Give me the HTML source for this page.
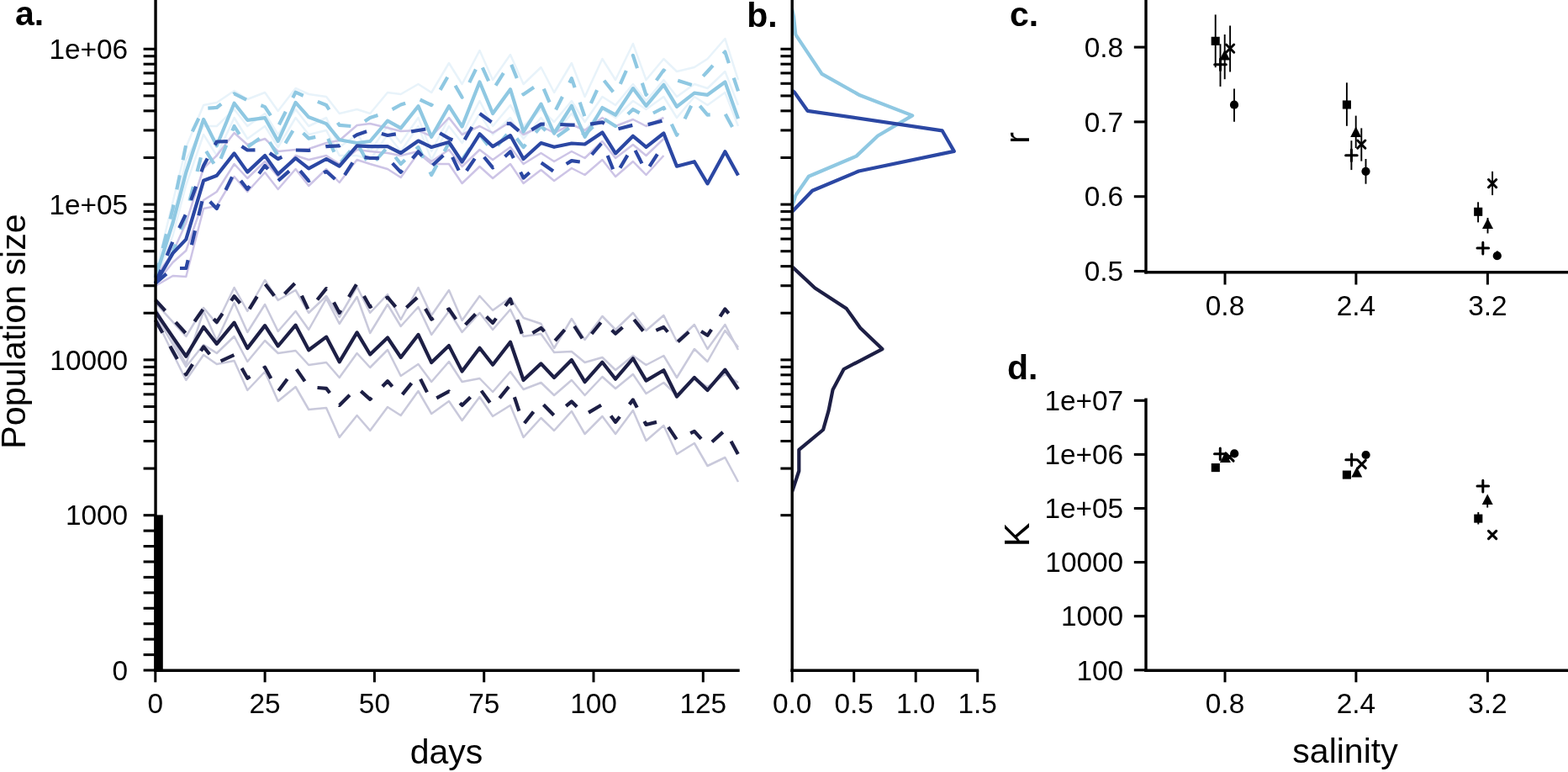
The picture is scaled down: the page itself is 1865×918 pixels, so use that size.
<!DOCTYPE html>
<html><head><meta charset="utf-8"><title>Population dynamics figure</title>
<style>html,body{margin:0;padding:0;background:#fff;}body{width:1865px;height:918px;overflow:hidden;}svg{display:block;}</style>
</head><body>
<svg width="1865" height="918" viewBox="0 0 1865 918" font-family="'Liberation Sans', Arial, Helvetica, sans-serif" fill="#000">
<polyline points="184.8,360.0 205.6,382.9 221.3,400.0 242.1,366.0 257.8,385.0 278.6,342.0 294.3,370.0 315.1,333.0 330.7,357.0 351.6,345.0 367.2,372.0 388.1,352.0 403.7,377.0 424.6,341.0 440.2,372.0 461.0,350.0 476.7,380.0 497.5,342.0 513.2,375.0 534.0,345.0 549.6,381.0 570.5,352.0 586.1,369.0 607.0,354.0 622.6,378.0 643.5,385.0 659.1,414.0 679.9,379.0 695.6,404.0 716.4,376.0 732.1,392.0 752.9,372.0 768.5,393.0 789.4,375.0 805.0,406.0 825.9,386.0 841.5,415.0 862.4,386.0 878.0,416.0" fill="none" stroke="#c9c9db" stroke-width="2.5" stroke-linejoin="round" stroke-linecap="butt"/>
<polyline points="184.8,366.0 205.6,404.3 221.3,433.0 242.1,370.0 257.8,405.0 278.6,360.0 294.3,395.0 315.1,362.0 330.7,394.0 351.6,370.0 367.2,392.0 388.1,355.0 403.7,385.0 424.6,353.0 440.2,396.0 461.0,362.0 476.7,388.0 497.5,365.0 513.2,398.0 534.0,370.0 549.6,395.0 570.5,372.0 586.1,392.0 607.0,368.0 622.6,400.0 643.5,397.0 659.1,419.0 679.9,418.0 695.6,431.0 716.4,425.0 732.1,440.0 752.9,423.0 768.5,434.0 789.4,423.0 805.0,449.0 825.9,415.0 841.5,430.0 862.4,393.0 878.0,413.0" fill="none" stroke="#c9c9db" stroke-width="2.5" stroke-linejoin="round" stroke-linecap="butt"/>
<polyline points="184.8,374.0 205.6,409.4 221.3,436.0 242.1,410.0 257.8,420.0 278.6,400.0 294.3,430.0 315.1,405.0 330.7,420.0 351.6,417.0 367.2,434.0 388.1,431.0 403.7,449.0 424.6,420.0 440.2,437.0 461.0,416.0 476.7,447.0 497.5,433.0 513.2,454.0 534.0,430.0 549.6,454.0 570.5,450.0 586.1,466.0 607.0,442.0 622.6,463.0 643.5,455.0 659.1,470.0 679.9,452.0 695.6,470.0 716.4,448.0 732.1,462.0 752.9,445.0 768.5,468.0 789.4,455.0 805.0,470.0 825.9,450.0 841.5,460.0 862.4,445.0 878.0,455.0" fill="none" stroke="#c9c9db" stroke-width="2.5" stroke-linejoin="round" stroke-linecap="butt"/>
<polyline points="184.8,378.0 205.6,420.3 221.3,452.0 242.1,422.0 257.8,433.0 278.6,429.0 294.3,464.0 315.1,442.0 330.7,477.0 351.6,460.0 367.2,487.0 388.1,485.0 403.7,520.0 424.6,494.0 440.2,512.0 461.0,484.0 476.7,494.0 497.5,465.0 513.2,492.0 534.0,477.0 549.6,500.0 570.5,472.0 586.1,495.0 607.0,482.0 622.6,520.0 643.5,497.0 659.1,512.0 679.9,489.0 695.6,516.0 716.4,495.0 732.1,516.0 752.9,488.0 768.5,524.0 789.4,506.0 805.0,540.0 825.9,527.0 841.5,554.0 862.4,544.0 878.0,573.0" fill="none" stroke="#c9c9db" stroke-width="2.5" stroke-linejoin="round" stroke-linecap="butt"/>
<polyline points="184.8,325.0 205.6,240.0 221.3,175.0 242.1,125.0 257.8,122.0 278.6,108.0 294.3,118.0 315.1,110.0 330.7,132.0 351.6,105.0 367.2,112.0 388.1,115.0 403.7,135.0 424.6,130.0 440.2,135.0 461.0,110.0 476.7,112.0 497.5,100.0 513.2,110.0 534.0,75.0 549.6,100.0 570.5,60.0 586.1,95.0 607.0,65.0 622.6,100.0 643.5,80.0 659.1,110.0 679.9,75.0 695.6,115.0 716.4,70.0 732.1,95.0 752.9,52.0 768.5,95.0 789.4,70.0 805.0,85.0 825.9,80.0 841.5,70.0 862.4,46.0 878.0,95.0" fill="none" stroke="#e8f3fa" stroke-width="2.5" stroke-linejoin="round" stroke-linecap="butt"/>
<polyline points="184.8,332.0 205.6,260.0 221.3,190.0 242.1,150.0 257.8,150.0 278.6,130.0 294.3,150.0 315.1,135.0 330.7,160.0 351.6,130.0 367.2,150.0 388.1,140.0 403.7,175.0 424.6,160.0 440.2,180.0 461.0,150.0 476.7,170.0 497.5,140.0 513.2,180.0 534.0,140.0 549.6,160.0 570.5,120.0 586.1,150.0 607.0,125.0 622.6,150.0 643.5,130.0 659.1,145.0 679.9,120.0 695.6,145.0 716.4,115.0 732.1,125.0 752.9,100.0 768.5,120.0 789.4,95.0 805.0,115.0 825.9,100.0 841.5,105.0 862.4,85.0 878.0,125.0" fill="none" stroke="#e8f3fa" stroke-width="2.5" stroke-linejoin="round" stroke-linecap="butt"/>
<polyline points="184.8,335.0 205.6,280.0 221.3,220.0 242.1,160.0 257.8,185.0 278.6,140.0 294.3,165.0 315.1,150.0 330.7,175.0 351.6,140.0 367.2,160.0 388.1,155.0 403.7,185.0 424.6,185.0 440.2,190.0 461.0,160.0 476.7,180.0 497.5,150.0 513.2,190.0 534.0,150.0 549.6,170.0 570.5,135.0 586.1,160.0 607.0,140.0 622.6,165.0 643.5,140.0 659.1,160.0 679.9,135.0 695.6,155.0 716.4,130.0 732.1,140.0 752.9,120.0 768.5,130.0 789.4,115.0 805.0,140.0 825.9,115.0 841.5,125.0 862.4,110.0 878.0,150.0" fill="none" stroke="#e8f3fa" stroke-width="2.5" stroke-linejoin="round" stroke-linecap="butt"/>
<polyline points="184.8,330.0 205.6,300.0 221.3,265.0 242.1,200.0 257.8,185.0 278.6,158.0 294.3,172.0 315.1,165.0 330.7,180.0 351.6,178.0 367.2,177.0 388.1,170.0 403.7,167.0 424.6,149.0 440.2,147.0 461.0,152.0 476.7,156.0 497.5,155.0 513.2,162.0 534.0,140.0 549.6,160.0 570.5,150.0 586.1,158.0 607.0,145.0 622.6,160.0 643.5,150.0 659.1,158.0 679.9,148.0 695.6,155.0 716.4,140.0 732.1,150.0 752.9,142.0 768.5,150.0 789.4,140.0" fill="none" stroke="#cdc4e6" stroke-width="2.5" stroke-linejoin="round" stroke-linecap="butt"/>
<polyline points="184.8,338.0 205.6,312.0 221.3,298.0 242.1,238.0 257.8,228.0 278.6,195.0 294.3,212.0 315.1,192.0 330.7,210.0 351.6,185.0 367.2,190.0 388.1,185.0 403.7,195.0 424.6,178.0 440.2,180.0 461.0,182.0 476.7,185.0 497.5,180.0 513.2,192.0 534.0,178.0 549.6,198.0 570.5,178.0 586.1,190.0 607.0,175.0 622.6,195.0 643.5,182.0 659.1,192.0 679.9,180.0 695.6,188.0 716.4,168.0 732.1,188.0 752.9,172.0 768.5,185.0 789.4,165.0" fill="none" stroke="#cdc4e6" stroke-width="2.5" stroke-linejoin="round" stroke-linecap="butt"/>
<polyline points="184.8,340.0 205.6,328.0 221.3,329.0 242.1,248.0 257.8,245.0 278.6,210.0 294.3,228.0 315.1,205.0 330.7,225.0 351.6,201.0 367.2,221.0 388.1,201.0 403.7,217.0 424.6,190.0 440.2,195.0 461.0,201.0 476.7,211.0 497.5,182.0 513.2,195.0 534.0,195.0 549.6,218.0 570.5,198.0 586.1,212.0 607.0,195.0 622.6,218.0 643.5,202.0 659.1,215.0 679.9,200.0 695.6,208.0 716.4,190.0 732.1,210.0 752.9,192.0 768.5,208.0 789.4,185.0" fill="none" stroke="#cdc4e6" stroke-width="2.5" stroke-linejoin="round" stroke-linecap="butt"/>
<polyline points="184.8,330.0 205.6,248.0 221.3,172.0 242.1,128.8 257.8,128.0 278.6,111.4 294.3,119.3 315.1,127.1 330.7,150.6 351.6,109.7 367.2,116.6 388.1,125.0 403.7,148.9 424.6,150.6 440.2,140.0 461.0,133.2 476.7,124.5 497.5,117.5 513.2,125.0 534.0,88.8 549.6,115.8 570.5,73.1 586.1,107.1 607.0,73.9 622.6,112.3 643.5,98.0 659.1,134.5 679.9,93.2 695.6,138.9 716.4,93.2 732.1,112.8 752.9,65.9 768.5,112.8 789.4,83.4 805.0,95.3 825.9,101.9 841.5,85.0 862.4,61.6 878.0,108.4" fill="none" stroke="#8fc8e2" stroke-width="4.2" stroke-linejoin="round" stroke-linecap="butt" stroke-dasharray="17.4 18.5"/>
<polyline points="184.8,338.0 205.6,300.0 221.3,255.0 242.1,175.0 257.8,200.0 278.6,150.0 294.3,175.0 315.1,160.0 330.7,185.0 351.6,150.0 367.2,164.6 388.1,160.0 403.7,195.0 424.6,170.0 440.2,198.0 461.0,175.0 476.7,195.0 497.5,175.0 513.2,208.0 534.0,170.0 549.6,190.0 570.5,160.0 586.1,180.0 607.0,155.0 622.6,175.0 643.5,150.0 659.1,165.0 679.9,150.0 695.6,160.0 716.4,140.0 732.1,150.0 752.9,130.0 768.5,138.9 789.4,128.0 805.0,160.7 825.9,118.2 841.5,136.7 862.4,135.0 878.0,163.9" fill="none" stroke="#8fc8e2" stroke-width="4.2" stroke-linejoin="round" stroke-linecap="butt" stroke-dasharray="17.4 18.5"/>
<polyline points="184.8,330.0 205.6,265.0 221.3,205.0 242.1,141.9 257.8,173.3 278.6,122.7 294.3,142.8 315.1,140.2 330.7,168.0 351.6,121.9 367.2,139.3 388.1,147.1 403.7,166.3 424.6,170.0 440.2,168.0 461.0,143.7 476.7,152.4 497.5,126.2 513.2,162.8 534.0,126.2 549.6,150.6 570.5,97.5 586.1,135.0 607.0,106.2 622.6,156.7 643.5,123.6 659.1,158.5 679.9,125.8 695.6,162.8 716.4,128.0 732.1,136.7 752.9,105.1 768.5,125.8 789.4,100.8 805.0,126.9 825.9,110.6 841.5,112.8 862.4,97.5 878.0,141.1" fill="none" stroke="#8fc8e2" stroke-width="4.2" stroke-linejoin="round" stroke-linecap="butt"/>
<polyline points="184.8,337.0 205.6,287.0 221.3,254.0 242.1,197.0 257.8,168.5 278.6,168.0 294.3,178.5 315.1,178.0 330.7,189.0 351.6,178.5 367.2,179.0 388.1,174.2 403.7,173.3 424.6,160.2 440.2,155.0 461.0,161.0 476.7,158.5 497.5,155.0 513.2,152.4 534.0,164.6 549.6,171.5 570.5,135.0 586.1,146.3 607.0,147.1 622.6,160.2 643.5,147.6 659.1,147.6 679.9,148.7 695.6,148.7 716.4,145.4 732.1,154.1 752.9,148.7 768.5,148.7 789.4,143.2" fill="none" stroke="#2b47a3" stroke-width="4.2" stroke-linejoin="round" stroke-linecap="butt" stroke-dasharray="17.4 18.5"/>
<polyline points="184.8,337.0 205.6,319.0 221.3,319.0 242.1,232.0 257.8,248.0 278.6,205.0 294.3,225.0 315.1,197.0 330.7,215.0 351.6,196.8 367.2,215.1 388.1,203.8 403.7,217.7 424.6,185.5 440.2,188.0 461.0,188.1 476.7,204.7 497.5,180.3 513.2,197.7 534.0,178.5 549.6,210.8 570.5,180.3 586.1,199.4 607.0,180.3 622.6,211.6 643.5,193.3 659.1,204.2 679.9,191.1 695.6,193.3 716.4,169.4 732.1,208.6 752.9,173.7 768.5,204.2 789.4,171.5" fill="none" stroke="#2b47a3" stroke-width="4.2" stroke-linejoin="round" stroke-linecap="butt" stroke-dasharray="17.4 18.5"/>
<polyline points="184.8,337.0 205.6,301.1 221.3,284.6 242.1,214.8 257.8,208.7 278.6,182.4 294.3,204.6 315.1,185.0 330.7,207.0 351.6,188.1 367.2,200.3 388.1,189.0 403.7,197.7 424.6,173.3 440.2,174.2 461.0,174.2 476.7,182.0 497.5,167.5 513.2,175.0 534.0,169.0 549.6,192.5 570.5,159.3 586.1,174.2 607.0,161.1 622.6,189.0 643.5,170.0 659.1,174.8 679.9,170.5 695.6,171.5 716.4,157.4 732.1,182.4 752.9,161.8 768.5,174.8 789.4,158.5 805.0,197.7 825.9,192.2 841.5,218.4 862.4,180.3 878.0,208.6" fill="none" stroke="#2b47a3" stroke-width="4.2" stroke-linejoin="round" stroke-linecap="butt"/>
<polyline points="184.8,356.6 205.6,379.5 221.3,396.7 242.1,367.0 257.8,383.0 278.6,352.2 294.3,371.4 315.1,337.4 330.7,357.5 351.6,336.1 367.2,369.3 388.1,343.1 403.7,371.9 424.6,337.0 440.2,364.9 461.0,353.6 476.7,371.9 497.5,352.7 513.2,379.7 534.0,367.5 549.6,390.2 570.5,368.4 586.1,384.0 607.0,355.7 622.6,402.4 643.5,390.0 659.1,406.3 679.9,382.7 695.6,407.1 716.4,381.4 732.1,396.7 752.9,378.4 768.5,398.0 789.4,389.0 805.0,407.6 825.9,388.8 841.5,398.8 862.4,367.5 878.0,386.3" fill="none" stroke="#1d1f45" stroke-width="4.2" stroke-linejoin="round" stroke-linecap="butt" stroke-dasharray="17.4 18.5"/>
<polyline points="184.8,380.5 205.6,417.6 221.3,445.5 242.1,412.4 257.8,431.5 278.6,422.0 294.3,449.8 315.1,436.8 330.7,465.5 351.6,437.5 367.2,460.1 388.1,461.9 403.7,481.9 424.6,461.0 440.2,474.9 461.0,453.2 476.7,471.5 497.5,445.7 513.2,476.7 534.0,465.4 549.6,481.9 570.5,461.9 586.1,483.3 607.0,457.5 622.6,504.6 643.5,478.4 659.1,494.0 679.9,477.5 695.6,493.2 716.4,481.0 732.1,501.9 752.9,475.4 768.5,505.0 789.4,499.8 805.0,522.8 825.9,512.8 841.5,530.3 862.4,511.5 878.0,540.4" fill="none" stroke="#1d1f45" stroke-width="4.2" stroke-linejoin="round" stroke-linecap="butt" stroke-dasharray="17.4 18.5"/>
<polyline points="184.8,370.5 205.6,400.9 221.3,423.7 242.1,388.8 257.8,408.9 278.6,383.6 294.3,414.1 315.1,387.1 330.7,411.5 351.6,386.7 367.2,416.3 388.1,400.6 403.7,430.3 424.6,395.4 440.2,421.5 461.0,401.5 476.7,425.0 497.5,398.0 513.2,431.1 534.0,411.1 549.6,441.6 570.5,413.7 586.1,433.7 607.0,406.7 622.6,452.0 643.5,432.4 659.1,449.0 679.9,428.0 695.6,454.2 716.4,430.7 732.1,450.7 752.9,426.3 768.5,452.6 789.4,440.3 805.0,471.5 825.9,448.9 841.5,464.0 862.4,439.7 878.0,462.7" fill="none" stroke="#1d1f45" stroke-width="4.2" stroke-linejoin="round" stroke-linecap="butt"/>
<rect x="183.3" y="612.4" width="10.5" height="184.8" fill="#000"/>
<line x1="170.60" y1="612.70" x2="185.05" y2="612.70" stroke="#000" stroke-width="3.1" stroke-linecap="butt"/>
<line x1="170.60" y1="557.07" x2="185.05" y2="557.07" stroke="#000" stroke-width="3.1" stroke-linecap="butt"/>
<line x1="170.60" y1="524.53" x2="185.05" y2="524.53" stroke="#000" stroke-width="3.1" stroke-linecap="butt"/>
<line x1="170.60" y1="501.44" x2="185.05" y2="501.44" stroke="#000" stroke-width="3.1" stroke-linecap="butt"/>
<line x1="170.60" y1="483.53" x2="185.05" y2="483.53" stroke="#000" stroke-width="3.1" stroke-linecap="butt"/>
<line x1="170.60" y1="468.90" x2="185.05" y2="468.90" stroke="#000" stroke-width="3.1" stroke-linecap="butt"/>
<line x1="170.60" y1="456.53" x2="185.05" y2="456.53" stroke="#000" stroke-width="3.1" stroke-linecap="butt"/>
<line x1="170.60" y1="445.81" x2="185.05" y2="445.81" stroke="#000" stroke-width="3.1" stroke-linecap="butt"/>
<line x1="170.60" y1="436.36" x2="185.05" y2="436.36" stroke="#000" stroke-width="3.1" stroke-linecap="butt"/>
<line x1="170.60" y1="427.90" x2="185.05" y2="427.90" stroke="#000" stroke-width="3.1" stroke-linecap="butt"/>
<line x1="170.60" y1="372.27" x2="185.05" y2="372.27" stroke="#000" stroke-width="3.1" stroke-linecap="butt"/>
<line x1="170.60" y1="339.73" x2="185.05" y2="339.73" stroke="#000" stroke-width="3.1" stroke-linecap="butt"/>
<line x1="170.60" y1="316.64" x2="185.05" y2="316.64" stroke="#000" stroke-width="3.1" stroke-linecap="butt"/>
<line x1="170.60" y1="298.73" x2="185.05" y2="298.73" stroke="#000" stroke-width="3.1" stroke-linecap="butt"/>
<line x1="170.60" y1="284.10" x2="185.05" y2="284.10" stroke="#000" stroke-width="3.1" stroke-linecap="butt"/>
<line x1="170.60" y1="271.73" x2="185.05" y2="271.73" stroke="#000" stroke-width="3.1" stroke-linecap="butt"/>
<line x1="170.60" y1="261.01" x2="185.05" y2="261.01" stroke="#000" stroke-width="3.1" stroke-linecap="butt"/>
<line x1="170.60" y1="251.56" x2="185.05" y2="251.56" stroke="#000" stroke-width="3.1" stroke-linecap="butt"/>
<line x1="170.60" y1="243.10" x2="185.05" y2="243.10" stroke="#000" stroke-width="3.1" stroke-linecap="butt"/>
<line x1="170.60" y1="187.47" x2="185.05" y2="187.47" stroke="#000" stroke-width="3.1" stroke-linecap="butt"/>
<line x1="170.60" y1="154.93" x2="185.05" y2="154.93" stroke="#000" stroke-width="3.1" stroke-linecap="butt"/>
<line x1="170.60" y1="131.84" x2="185.05" y2="131.84" stroke="#000" stroke-width="3.1" stroke-linecap="butt"/>
<line x1="170.60" y1="113.93" x2="185.05" y2="113.93" stroke="#000" stroke-width="3.1" stroke-linecap="butt"/>
<line x1="170.60" y1="99.30" x2="185.05" y2="99.30" stroke="#000" stroke-width="3.1" stroke-linecap="butt"/>
<line x1="170.60" y1="86.93" x2="185.05" y2="86.93" stroke="#000" stroke-width="3.1" stroke-linecap="butt"/>
<line x1="170.60" y1="76.21" x2="185.05" y2="76.21" stroke="#000" stroke-width="3.1" stroke-linecap="butt"/>
<line x1="170.60" y1="66.76" x2="185.05" y2="66.76" stroke="#000" stroke-width="3.1" stroke-linecap="butt"/>
<line x1="170.60" y1="58.30" x2="185.05" y2="58.30" stroke="#000" stroke-width="3.1" stroke-linecap="butt"/>
<line x1="170.60" y1="797.00" x2="185.05" y2="797.00" stroke="#000" stroke-width="3.1" stroke-linecap="butt"/>
<line x1="170.60" y1="778.57" x2="185.05" y2="778.57" stroke="#000" stroke-width="3.1" stroke-linecap="butt"/>
<line x1="170.60" y1="760.14" x2="185.05" y2="760.14" stroke="#000" stroke-width="3.1" stroke-linecap="butt"/>
<line x1="170.60" y1="741.71" x2="185.05" y2="741.71" stroke="#000" stroke-width="3.1" stroke-linecap="butt"/>
<line x1="170.60" y1="723.28" x2="185.05" y2="723.28" stroke="#000" stroke-width="3.1" stroke-linecap="butt"/>
<line x1="170.60" y1="704.85" x2="185.05" y2="704.85" stroke="#000" stroke-width="3.1" stroke-linecap="butt"/>
<line x1="170.60" y1="686.42" x2="185.05" y2="686.42" stroke="#000" stroke-width="3.1" stroke-linecap="butt"/>
<line x1="170.60" y1="667.99" x2="185.05" y2="667.99" stroke="#000" stroke-width="3.1" stroke-linecap="butt"/>
<line x1="170.60" y1="649.56" x2="185.05" y2="649.56" stroke="#000" stroke-width="3.1" stroke-linecap="butt"/>
<line x1="170.60" y1="631.13" x2="185.05" y2="631.13" stroke="#000" stroke-width="3.1" stroke-linecap="butt"/>
<text x="152.20" y="70.00" font-size="33.4" text-anchor="end" font-weight="normal">1e+06</text>
<text x="152.20" y="254.80" font-size="33.4" text-anchor="end" font-weight="normal">1e+05</text>
<text x="152.20" y="439.60" font-size="33.4" text-anchor="end" font-weight="normal">10000</text>
<text x="152.20" y="624.40" font-size="33.4" text-anchor="end" font-weight="normal">1000</text>
<text x="152.20" y="808.70" font-size="33.4" text-anchor="end" font-weight="normal">0</text>
<line x1="184.80" y1="797.20" x2="184.80" y2="811.30" stroke="#000" stroke-width="3" stroke-linecap="butt"/>
<text x="184.80" y="848.20" font-size="33.4" text-anchor="middle" font-weight="normal">0</text>
<line x1="315.10" y1="797.20" x2="315.10" y2="811.30" stroke="#000" stroke-width="3" stroke-linecap="butt"/>
<text x="315.10" y="848.20" font-size="33.4" text-anchor="middle" font-weight="normal">25</text>
<line x1="445.40" y1="797.20" x2="445.40" y2="811.30" stroke="#000" stroke-width="3" stroke-linecap="butt"/>
<text x="445.40" y="848.20" font-size="33.4" text-anchor="middle" font-weight="normal">50</text>
<line x1="575.70" y1="797.20" x2="575.70" y2="811.30" stroke="#000" stroke-width="3" stroke-linecap="butt"/>
<text x="575.70" y="848.20" font-size="33.4" text-anchor="middle" font-weight="normal">75</text>
<line x1="706.00" y1="797.20" x2="706.00" y2="811.30" stroke="#000" stroke-width="3" stroke-linecap="butt"/>
<text x="706.00" y="848.20" font-size="33.4" text-anchor="middle" font-weight="normal">100</text>
<line x1="836.30" y1="797.20" x2="836.30" y2="811.30" stroke="#000" stroke-width="3" stroke-linecap="butt"/>
<text x="836.30" y="848.20" font-size="33.4" text-anchor="middle" font-weight="normal">125</text>
<line x1="185.05" y1="0.00" x2="185.05" y2="798.90" stroke="#000" stroke-width="3.4" stroke-linecap="butt"/>
<line x1="183.35" y1="797.20" x2="879.70" y2="797.20" stroke="#000" stroke-width="3.4" stroke-linecap="butt"/>
<text x="30.00" y="394.00" font-size="41.2" text-anchor="middle" font-weight="normal" transform="rotate(-90 30.00 394.00)">Population size</text>
<text x="531.00" y="908.00" font-size="41" text-anchor="middle" font-weight="normal">days</text>
<text x="18.00" y="30.00" font-size="41" text-anchor="start" font-weight="bold">a.</text>
<line x1="928.40" y1="612.70" x2="942.20" y2="612.70" stroke="#000" stroke-width="3.1" stroke-linecap="butt"/>
<line x1="928.40" y1="557.07" x2="942.20" y2="557.07" stroke="#000" stroke-width="3.1" stroke-linecap="butt"/>
<line x1="928.40" y1="524.53" x2="942.20" y2="524.53" stroke="#000" stroke-width="3.1" stroke-linecap="butt"/>
<line x1="928.40" y1="501.44" x2="942.20" y2="501.44" stroke="#000" stroke-width="3.1" stroke-linecap="butt"/>
<line x1="928.40" y1="483.53" x2="942.20" y2="483.53" stroke="#000" stroke-width="3.1" stroke-linecap="butt"/>
<line x1="928.40" y1="468.90" x2="942.20" y2="468.90" stroke="#000" stroke-width="3.1" stroke-linecap="butt"/>
<line x1="928.40" y1="456.53" x2="942.20" y2="456.53" stroke="#000" stroke-width="3.1" stroke-linecap="butt"/>
<line x1="928.40" y1="445.81" x2="942.20" y2="445.81" stroke="#000" stroke-width="3.1" stroke-linecap="butt"/>
<line x1="928.40" y1="436.36" x2="942.20" y2="436.36" stroke="#000" stroke-width="3.1" stroke-linecap="butt"/>
<line x1="928.40" y1="427.90" x2="942.20" y2="427.90" stroke="#000" stroke-width="3.1" stroke-linecap="butt"/>
<line x1="928.40" y1="372.27" x2="942.20" y2="372.27" stroke="#000" stroke-width="3.1" stroke-linecap="butt"/>
<line x1="928.40" y1="339.73" x2="942.20" y2="339.73" stroke="#000" stroke-width="3.1" stroke-linecap="butt"/>
<line x1="928.40" y1="316.64" x2="942.20" y2="316.64" stroke="#000" stroke-width="3.1" stroke-linecap="butt"/>
<line x1="928.40" y1="298.73" x2="942.20" y2="298.73" stroke="#000" stroke-width="3.1" stroke-linecap="butt"/>
<line x1="928.40" y1="284.10" x2="942.20" y2="284.10" stroke="#000" stroke-width="3.1" stroke-linecap="butt"/>
<line x1="928.40" y1="271.73" x2="942.20" y2="271.73" stroke="#000" stroke-width="3.1" stroke-linecap="butt"/>
<line x1="928.40" y1="261.01" x2="942.20" y2="261.01" stroke="#000" stroke-width="3.1" stroke-linecap="butt"/>
<line x1="928.40" y1="251.56" x2="942.20" y2="251.56" stroke="#000" stroke-width="3.1" stroke-linecap="butt"/>
<line x1="928.40" y1="243.10" x2="942.20" y2="243.10" stroke="#000" stroke-width="3.1" stroke-linecap="butt"/>
<line x1="928.40" y1="187.47" x2="942.20" y2="187.47" stroke="#000" stroke-width="3.1" stroke-linecap="butt"/>
<line x1="928.40" y1="154.93" x2="942.20" y2="154.93" stroke="#000" stroke-width="3.1" stroke-linecap="butt"/>
<line x1="928.40" y1="131.84" x2="942.20" y2="131.84" stroke="#000" stroke-width="3.1" stroke-linecap="butt"/>
<line x1="928.40" y1="113.93" x2="942.20" y2="113.93" stroke="#000" stroke-width="3.1" stroke-linecap="butt"/>
<line x1="928.40" y1="99.30" x2="942.20" y2="99.30" stroke="#000" stroke-width="3.1" stroke-linecap="butt"/>
<line x1="928.40" y1="86.93" x2="942.20" y2="86.93" stroke="#000" stroke-width="3.1" stroke-linecap="butt"/>
<line x1="928.40" y1="76.21" x2="942.20" y2="76.21" stroke="#000" stroke-width="3.1" stroke-linecap="butt"/>
<line x1="928.40" y1="66.76" x2="942.20" y2="66.76" stroke="#000" stroke-width="3.1" stroke-linecap="butt"/>
<line x1="928.40" y1="58.30" x2="942.20" y2="58.30" stroke="#000" stroke-width="3.1" stroke-linecap="butt"/>
<line x1="942.20" y1="797.20" x2="942.20" y2="811.30" stroke="#000" stroke-width="3" stroke-linecap="butt"/>
<text x="942.20" y="848.20" font-size="33.4" text-anchor="middle" font-weight="normal">0.0</text>
<line x1="1015.70" y1="797.20" x2="1015.70" y2="811.30" stroke="#000" stroke-width="3" stroke-linecap="butt"/>
<text x="1015.70" y="848.20" font-size="33.4" text-anchor="middle" font-weight="normal">0.5</text>
<line x1="1089.20" y1="797.20" x2="1089.20" y2="811.30" stroke="#000" stroke-width="3" stroke-linecap="butt"/>
<text x="1089.20" y="848.20" font-size="33.4" text-anchor="middle" font-weight="normal">1.0</text>
<line x1="1162.70" y1="797.20" x2="1162.70" y2="811.30" stroke="#000" stroke-width="3" stroke-linecap="butt"/>
<text x="1162.70" y="848.20" font-size="33.4" text-anchor="middle" font-weight="normal">1.5</text>
<line x1="942.20" y1="0.00" x2="942.20" y2="798.90" stroke="#000" stroke-width="3.4" stroke-linecap="butt"/>
<line x1="940.50" y1="797.20" x2="1164.20" y2="797.20" stroke="#000" stroke-width="3.4" stroke-linecap="butt"/>
<text x="888.30" y="32.00" font-size="41" text-anchor="start" font-weight="bold">b.</text>
<line x1="1348.80" y1="322.50" x2="1363.00" y2="322.50" stroke="#000" stroke-width="3.1" stroke-linecap="butt"/>
<text x="1336.20" y="334.20" font-size="33.4" text-anchor="end" font-weight="normal">0.5</text>
<line x1="1348.80" y1="233.70" x2="1363.00" y2="233.70" stroke="#000" stroke-width="3.1" stroke-linecap="butt"/>
<text x="1336.20" y="245.40" font-size="33.4" text-anchor="end" font-weight="normal">0.6</text>
<line x1="1348.80" y1="144.90" x2="1363.00" y2="144.90" stroke="#000" stroke-width="3.1" stroke-linecap="butt"/>
<text x="1336.20" y="156.60" font-size="33.4" text-anchor="end" font-weight="normal">0.7</text>
<line x1="1348.80" y1="56.10" x2="1363.00" y2="56.10" stroke="#000" stroke-width="3.1" stroke-linecap="butt"/>
<text x="1336.20" y="67.80" font-size="33.4" text-anchor="end" font-weight="normal">0.8</text>
<line x1="1457.00" y1="323.80" x2="1457.00" y2="338.50" stroke="#000" stroke-width="3" stroke-linecap="butt"/>
<text x="1457.00" y="375.20" font-size="33.4" text-anchor="middle" font-weight="normal">0.8</text>
<line x1="1612.90" y1="323.80" x2="1612.90" y2="338.50" stroke="#000" stroke-width="3" stroke-linecap="butt"/>
<text x="1612.90" y="375.20" font-size="33.4" text-anchor="middle" font-weight="normal">2.4</text>
<line x1="1769.40" y1="323.80" x2="1769.40" y2="338.50" stroke="#000" stroke-width="3" stroke-linecap="butt"/>
<text x="1769.40" y="375.20" font-size="33.4" text-anchor="middle" font-weight="normal">3.2</text>
<line x1="1363.00" y1="0.00" x2="1363.00" y2="325.50" stroke="#000" stroke-width="3.4" stroke-linecap="butt"/>
<line x1="1361.30" y1="323.80" x2="1865.00" y2="323.80" stroke="#000" stroke-width="3.4" stroke-linecap="butt"/>
<text x="1224.00" y="163.80" font-size="41" text-anchor="middle" font-weight="normal" transform="rotate(-90 1224.00 163.80)">r</text>
<text x="1201.00" y="31.30" font-size="41" text-anchor="start" font-weight="bold">c.</text>
<line x1="1363.00" y1="473.50" x2="1363.00" y2="798.90" stroke="#000" stroke-width="3.4" stroke-linecap="butt"/>
<line x1="1361.30" y1="797.20" x2="1865.00" y2="797.20" stroke="#000" stroke-width="3.4" stroke-linecap="butt"/>
<line x1="1348.80" y1="476.30" x2="1363.00" y2="476.30" stroke="#000" stroke-width="3.1" stroke-linecap="butt"/>
<text x="1336.20" y="488.00" font-size="33.4" text-anchor="end" font-weight="normal">1e+07</text>
<line x1="1348.80" y1="540.40" x2="1363.00" y2="540.40" stroke="#000" stroke-width="3.1" stroke-linecap="butt"/>
<text x="1336.20" y="552.10" font-size="33.4" text-anchor="end" font-weight="normal">1e+06</text>
<line x1="1348.80" y1="604.50" x2="1363.00" y2="604.50" stroke="#000" stroke-width="3.1" stroke-linecap="butt"/>
<text x="1336.20" y="616.20" font-size="33.4" text-anchor="end" font-weight="normal">1e+05</text>
<line x1="1348.80" y1="668.60" x2="1363.00" y2="668.60" stroke="#000" stroke-width="3.1" stroke-linecap="butt"/>
<text x="1336.20" y="680.30" font-size="33.4" text-anchor="end" font-weight="normal">10000</text>
<line x1="1348.80" y1="732.70" x2="1363.00" y2="732.70" stroke="#000" stroke-width="3.1" stroke-linecap="butt"/>
<text x="1336.20" y="744.40" font-size="33.4" text-anchor="end" font-weight="normal">1000</text>
<line x1="1348.80" y1="796.80" x2="1363.00" y2="796.80" stroke="#000" stroke-width="3.1" stroke-linecap="butt"/>
<text x="1336.20" y="808.50" font-size="33.4" text-anchor="end" font-weight="normal">100</text>
<line x1="1457.00" y1="797.20" x2="1457.00" y2="811.30" stroke="#000" stroke-width="3" stroke-linecap="butt"/>
<text x="1457.00" y="848.20" font-size="33.4" text-anchor="middle" font-weight="normal">0.8</text>
<line x1="1612.90" y1="797.20" x2="1612.90" y2="811.30" stroke="#000" stroke-width="3" stroke-linecap="butt"/>
<text x="1612.90" y="848.20" font-size="33.4" text-anchor="middle" font-weight="normal">2.4</text>
<line x1="1769.40" y1="797.20" x2="1769.40" y2="811.30" stroke="#000" stroke-width="3" stroke-linecap="butt"/>
<text x="1769.40" y="848.20" font-size="33.4" text-anchor="middle" font-weight="normal">3.2</text>
<text x="1224.00" y="636.00" font-size="43" text-anchor="middle" font-weight="normal" transform="rotate(-90 1224.00 636.00)">K</text>
<text x="1600.00" y="907.20" font-size="41" text-anchor="middle" font-weight="normal">salinity</text>
<text x="1198.00" y="451.00" font-size="41" text-anchor="start" font-weight="bold">d.</text>
<clipPath id="cb"><rect x="943.9" y="0" width="400" height="797"/></clipPath>
<g clip-path="url(#cb)">
<polyline points="942.0,10.0 944.0,19.8 946.3,41.1 977.5,87.8 1022.8,113.3 1085.2,137.4 1044.1,161.5 1018.6,185.6 961.9,209.7 946.3,232.4 942.0,246.0" fill="none" stroke="#8fc8e2" stroke-width="4.2" stroke-linejoin="round" stroke-linecap="butt"/>
<polyline points="942.0,107.5 944.9,109.6 960.5,131.8 1120.6,155.3 1134.8,179.9 1021.4,203.5 966.2,226.7 942.0,252.0" fill="none" stroke="#2b47a3" stroke-width="4.2" stroke-linejoin="round" stroke-linecap="butt"/>
<polyline points="942.0,317.0 969.3,342.5 1006.9,367.1 1023.2,390.0 1049.4,415.1 1003.6,439.0 990.5,463.6 985.6,488.1 979.1,511.0 950.3,534.9 950.3,560.0 942.0,585.0" fill="none" stroke="#1d1f45" stroke-width="4.2" stroke-linejoin="round" stroke-linecap="butt"/>
</g>
<line x1="1445.70" y1="17.40" x2="1445.70" y2="80.20" stroke="#000" stroke-width="1.9" stroke-linecap="butt"/>
<line x1="1451.50" y1="52.30" x2="1451.50" y2="102.90" stroke="#000" stroke-width="1.9" stroke-linecap="butt"/>
<line x1="1456.70" y1="41.00" x2="1456.70" y2="94.20" stroke="#000" stroke-width="1.9" stroke-linecap="butt"/>
<line x1="1463.10" y1="30.50" x2="1463.10" y2="85.50" stroke="#000" stroke-width="1.9" stroke-linecap="butt"/>
<line x1="1468.00" y1="105.50" x2="1468.00" y2="144.80" stroke="#000" stroke-width="1.9" stroke-linecap="butt"/>
<rect x="1440.65" y="43.75" width="10.10" height="10.10" fill="#000"/>
<path d="M1444.70 76.70H1458.30M1451.50 69.90V83.50" stroke="#000" stroke-width="3.0" stroke-linecap="round" fill="none"/>
<polygon points="1456.70,59.20 1463.20,71.60 1450.20,71.60" fill="#000"/>
<path d="M1458.50 53.00L1467.70 62.20M1458.50 62.20L1467.70 53.00" stroke="#000" stroke-width="3.0" stroke-linecap="round" fill="none"/>
<circle cx="1468.00" cy="124.70" r="5.1" fill="#000"/>
<line x1="1601.90" y1="98.30" x2="1601.90" y2="149.80" stroke="#000" stroke-width="1.9" stroke-linecap="butt"/>
<line x1="1612.70" y1="137.60" x2="1612.70" y2="176.00" stroke="#000" stroke-width="1.9" stroke-linecap="butt"/>
<line x1="1619.30" y1="152.40" x2="1619.30" y2="191.60" stroke="#000" stroke-width="1.9" stroke-linecap="butt"/>
<line x1="1607.40" y1="167.20" x2="1607.40" y2="202.10" stroke="#000" stroke-width="1.9" stroke-linecap="butt"/>
<line x1="1624.50" y1="189.00" x2="1624.50" y2="218.70" stroke="#000" stroke-width="1.9" stroke-linecap="butt"/>
<rect x="1596.85" y="119.45" width="10.10" height="10.10" fill="#000"/>
<polygon points="1612.70,150.50 1619.20,162.90 1606.20,162.90" fill="#000"/>
<path d="M1614.70 167.00L1623.90 176.20M1614.70 176.20L1623.90 167.00" stroke="#000" stroke-width="3.0" stroke-linecap="round" fill="none"/>
<path d="M1600.60 184.70H1614.20M1607.40 177.90V191.50" stroke="#000" stroke-width="3.0" stroke-linecap="round" fill="none"/>
<circle cx="1624.50" cy="203.80" r="5.1" fill="#000"/>
<line x1="1775.10" y1="203.80" x2="1775.10" y2="232.10" stroke="#000" stroke-width="1.9" stroke-linecap="butt"/>
<line x1="1758.10" y1="240.30" x2="1758.10" y2="264.40" stroke="#000" stroke-width="1.9" stroke-linecap="butt"/>
<line x1="1769.50" y1="259.00" x2="1769.50" y2="277.50" stroke="#000" stroke-width="1.9" stroke-linecap="butt"/>
<line x1="1780.80" y1="298.40" x2="1780.80" y2="306.00" stroke="#000" stroke-width="1.9" stroke-linecap="butt"/>
<path d="M1770.50 213.50L1779.70 222.70M1770.50 222.70L1779.70 213.50" stroke="#000" stroke-width="3.0" stroke-linecap="round" fill="none"/>
<rect x="1753.15" y="246.75" width="10.10" height="10.10" fill="#000"/>
<polygon points="1769.50,259.50 1776.00,271.90 1763.00,271.90" fill="#000"/>
<path d="M1757.00 295.10H1770.60M1763.80 288.30V301.90" stroke="#000" stroke-width="3.0" stroke-linecap="round" fill="none"/>
<circle cx="1780.80" cy="304.20" r="5.1" fill="#000"/>
<rect x="1440.75" y="551.05" width="10.10" height="10.10" fill="#000"/>
<path d="M1444.50 539.70H1458.10M1451.30 532.90V546.50" stroke="#000" stroke-width="3.0" stroke-linecap="round" fill="none"/>
<polygon points="1457.40,537.60 1463.90,550.00 1450.90,550.00" fill="#000"/>
<path d="M1457.90 538.90L1467.10 548.10M1457.90 548.10L1467.10 538.90" stroke="#000" stroke-width="3.0" stroke-linecap="round" fill="none"/>
<circle cx="1468.20" cy="539.40" r="5.1" fill="#000"/>
<rect x="1596.85" y="559.55" width="10.10" height="10.10" fill="#000"/>
<path d="M1600.80 546.70H1614.40M1607.60 539.90V553.50" stroke="#000" stroke-width="3.0" stroke-linecap="round" fill="none"/>
<polygon points="1613.80,555.20 1620.30,567.60 1607.30,567.60" fill="#000"/>
<path d="M1615.10 547.40L1624.30 556.60M1615.10 556.60L1624.30 547.40" stroke="#000" stroke-width="3.0" stroke-linecap="round" fill="none"/>
<circle cx="1624.60" cy="541.00" r="5.1" fill="#000"/>
<line x1="1758.30" y1="609.00" x2="1758.30" y2="623.50" stroke="#000" stroke-width="1.9" stroke-linecap="butt"/>
<line x1="1769.20" y1="590.00" x2="1769.20" y2="603.60" stroke="#000" stroke-width="1.9" stroke-linecap="butt"/>
<path d="M1757.00 578.10H1770.60M1763.80 571.30V584.90" stroke="#000" stroke-width="3.0" stroke-linecap="round" fill="none"/>
<polygon points="1769.20,587.60 1775.70,600.00 1762.70,600.00" fill="#000"/>
<rect x="1753.25" y="611.55" width="10.10" height="10.10" fill="#000"/>
<path d="M1770.50 631.40L1779.70 640.60M1770.50 640.60L1779.70 631.40" stroke="#000" stroke-width="3.0" stroke-linecap="round" fill="none"/>
</svg>
</body></html>
